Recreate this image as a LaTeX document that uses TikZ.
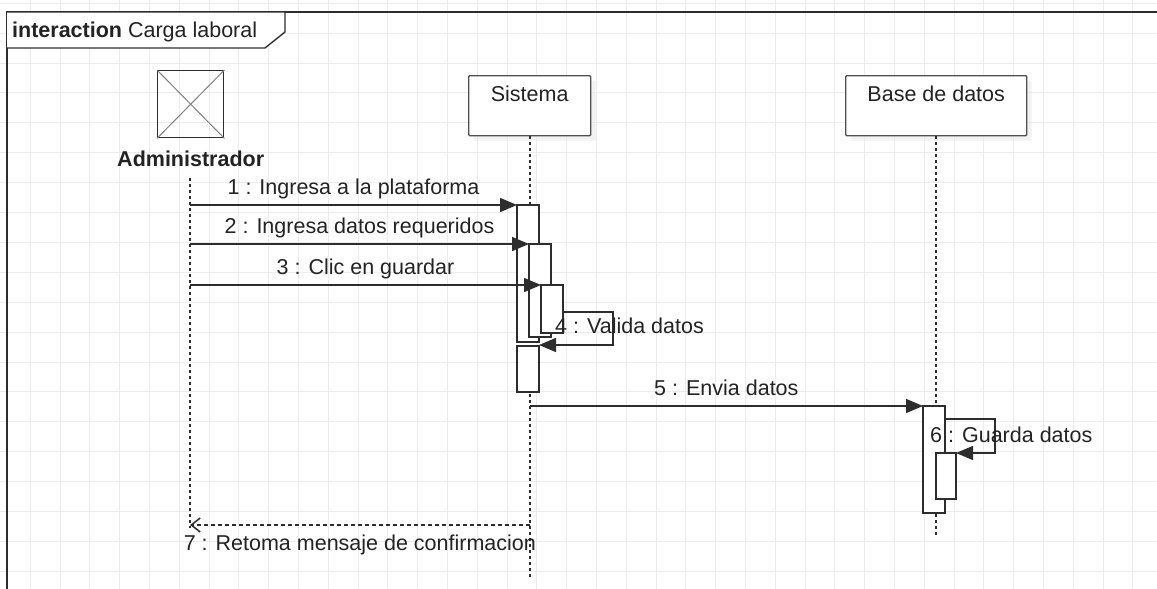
\documentclass[tikz,border=0pt]{standalone}
\usepackage{fontspec}
\setmainfont{Liberation Sans}
\usepackage{tikz}
\usetikzlibrary{arrows.meta, positioning, calc, shadows}
\definecolor{linegray}{RGB}{45,45,45}
\definecolor{boxgray}{RGB}{80,80,80}
\definecolor{gridgray}{RGB}{236,236,236}
\definecolor{shadowgray}{RGB}{230,230,230}
\definecolor{textgray}{RGB}{35,35,35}

\begin{document}
\begin{tikzpicture}[
    x=1pt, y=-1pt,
    lbl/.style={font=\fontsize{21.5}{25}\selectfont, text=textgray, inner sep=0pt},
    lifebox/.style={draw=boxgray, fill=white, line width=1.4pt, rounded corners=1pt,
                    minimum height=60pt, anchor=north west, inner sep=0pt,
                    drop shadow={shadow xshift=5pt, shadow yshift=-5pt, fill=shadowgray}},
    actbar/.style={draw=linegray, fill=white, line width=1.4pt, minimum width=22pt,
                   anchor=north west, inner sep=0pt, outer sep=0pt},
    lifeline/.style={linegray, line width=1.7pt, dash pattern=on 3pt off 3pt},
    msg/.style={linegray, line width=1.5pt, -{Triangle[length=17pt, width=14pt]}},
    ret/.style={linegray, line width=1.5pt, dash pattern=on 4pt off 3pt,
                -{Straight Barb[length=9pt, width=14pt]}},
    msglbl/.style={lbl, anchor=base, yshift=10.5pt}
]
\useasboundingbox (0,0) rectangle (1157,589);
\fill[white] (0,0) rectangle (1157,589);
% cuadricula de fondo
\foreach \k in {1,...,38}{
    \draw[gridgray, line width=1pt] ({29.8*\k+0.4},0) -- ({29.8*\k+0.4},589);
}
\foreach \k in {0,...,19}{
    \draw[gridgray, line width=1pt] (0,{29.9*\k+3.2}) -- (1157,{29.9*\k+3.2});
}
% marco de la interaccion
\draw[linegray, line width=1.6pt] (7,589) -- (7,12) -- (1157,12);
\draw[linegray, line width=1.4pt, fill=white]
    (7,12) -- (285,12) -- (285,32) -- (265,48) -- (7,48);
\node[lbl, anchor=base west] (titulo) at (12,37)
    {\textbf{interaction} Carga laboral};

% participantes
\node[draw=linegray, line width=1.4pt, minimum width=66pt, minimum height=67pt,
      inner sep=0pt, anchor=north west] (adm) at (157,70) {};
\draw[gray, line width=1pt] (adm.north west) -- (adm.south east);
\draw[gray, line width=1pt] (adm.north east) -- (adm.south west);
\node[lbl, font=\fontsize{21.5}{25}\selectfont\bfseries, anchor=base]
    (admtxt) at ([yshift=-28pt]adm.south) {Administrador};

\node[lifebox, minimum width=122pt] (sis) at (468,75) {};
\node[lbl, anchor=base] (sistxt) at ([yshift=-26pt]sis.north) {Sistema};
\node[lifebox, minimum width=181pt] (bd) at (845,75) {};
\node[lbl, anchor=base] (bdtxt) at ([yshift=-26pt]bd.north) {Base de datos};

% lineas de vida
\coordinate (admini) at (190,178);
\coordinate (admfin) at (190,528);
\coordinate (sisfin) at (sis.south |- 0,577);
\coordinate (bdfin) at (bd.south |- 0,536);
\draw[lifeline] (admini) -- (admfin);
\draw[lifeline] (sis.south) -- (sisfin);
\draw[lifeline] (bd.south) -- (bdfin);

% activaciones del sistema
\node[actbar, minimum height=137pt] (b1) at (517,205) {};
\node[actbar, minimum height=93pt] (b2) at (529,244) {};
\node[actbar, minimum height=48pt] (b3) at (541,285) {};
\node[actbar, minimum height=46pt] (b4) at (517,346) {};

% mensajes 1-3
\coordinate (a1) at (190,205);
\coordinate (a2) at (190,244);
\coordinate (a3) at (190,285);
\draw[msg] (a1) -- node[msglbl] {1 : Ingresa a la plataforma} (b1.north west);
\draw[msg] (a2) -- node[msglbl] {2 : Ingresa datos requeridos} (b2.north west);
\draw[msg] (a3) -- node[msglbl] {3 : Clic en guardar} (b3.north west);

% 4 : mensaje propio
\coordinate (p4a) at (b3.east |- 0,312);
\coordinate (p4b) at (613,312);
\coordinate (p4c) at (613,345);
\draw[msg] (p4a) -- (p4b) -- (p4c) -- (b4.north east |- p4c);
\node[lbl, anchor=base west] (l4) at ([xshift=-8pt]b3.south east) {4 : Valida datos};

% activaciones de la base de datos
\node[actbar, minimum height=107pt] (bb1) at (923,406) {};
\node[actbar, minimum width=20pt, minimum height=46pt] (bb2) at (936,453) {};

% 5 : envio
\coordinate (s5) at (sis.south |- 0,406);
\draw[msg] (s5) -- node[msglbl] {5 : Envia datos} (bb1.north west);

% 6 : mensaje propio
\coordinate (p6a) at (bb1.east |- 0,419);
\coordinate (p6b) at (995,419);
\coordinate (p6c) at (995,453);
\draw[msg] (p6a) -- (p6b) -- (p6c) -- (bb2.north east);
\node[lbl, anchor=base west] (l6) at ([xshift=7pt, yshift=-36pt]bb1.north west)
    {6 : Guarda datos};

% 7 : retorno
\coordinate (r7a) at (sis.south |- 0,525);
\coordinate (r7b) at (190,525);
\draw[ret] (r7a) -- node[lbl, anchor=base, yshift=-25pt]
    {7 : Retoma mensaje de confirmacion} (r7b);
\end{tikzpicture}
\end{document}
